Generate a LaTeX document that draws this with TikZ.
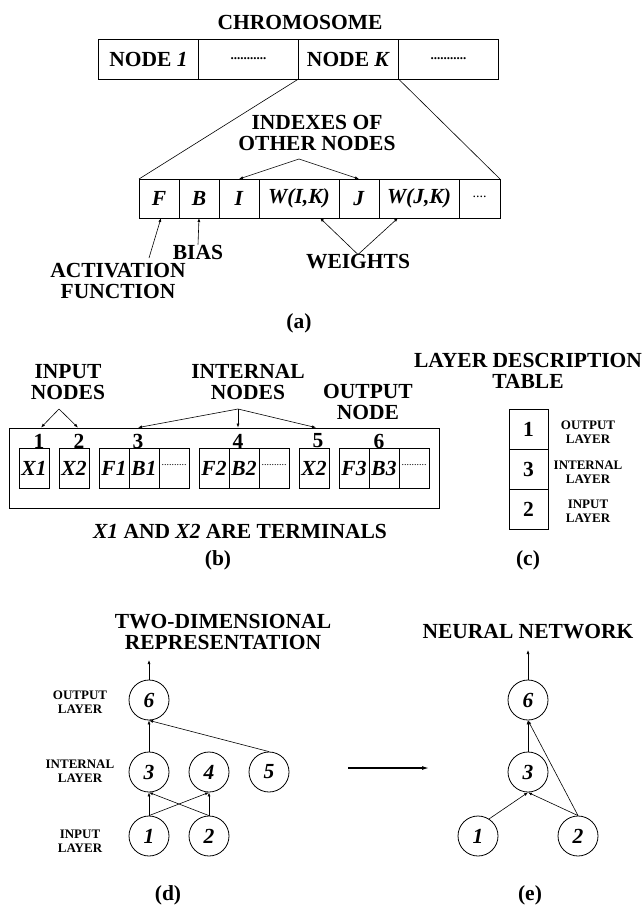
\documentclass[tikz,border=0pt]{standalone}
\usepackage{fontspec}
\setmainfont{Liberation Serif}
\usetikzlibrary{
  arrows.meta,
  positioning
}
\tikzset{
bigtext/.style={
  font=\fontsize{21.5}{21}\selectfont\bfseries,
  align=center,
  inner sep=0pt
},
smalltext/.style={
  font=\fontsize{13}{14}\selectfont\bfseries,
  align=center,
  inner sep=0pt
},
chromcell/.style={
  draw,
  line width=0.8pt,
  minimum width=100pt,
  minimum height=40pt,
  inner sep=0pt,
  outer sep=0pt,
  bigtext
},
genecell/.style={
  draw,
  line width=0.8pt,
  minimum width=40pt,
  minimum height=39pt,
  inner sep=0pt,
  outer sep=0pt,
  bigtext
},
slotcell/.style={
  draw,
  line width=0.8pt,
  minimum width=30pt,
  minimum height=40pt,
  inner sep=0pt,
  outer sep=0pt,
  bigtext
},
tablecell/.style={
  draw,
  line width=0.8pt,
  minimum width=39pt,
  minimum height=40pt,
  inner sep=0pt,
  outer sep=0pt,
  bigtext
},
neuron/.style={
  draw,
  circle,
  line width=0.8pt,
  minimum size=40pt,
  inner sep=0pt,
  bigtext
},
arrow/.style={
  -{Latex[length=4pt,width=3pt]},
  line width=0.6pt
},
thinline/.style={
  line width=0.6pt
},
bigarrow/.style={
  -{Latex[length=7pt,width=4pt]},
  line width=1.2pt
}
}
\newcommand{\celldots}{\raisebox{0.3em}{\fontsize{10}{10}\selectfont\mdseries ..........}}

\begin{document}
\begin{tikzpicture}[x=1pt,y=-1pt]
\useasboundingbox (0,0) rectangle (643,912);

% (a) chromosome
\node[bigtext] (chromtitle) at (300,22) {CHROMOSOME};
\node[chromcell] (node1) at (148.5,59) {NODE \textit{1}};
\node[chromcell, right=0pt of node1] (gap1) {\fontsize{13}{13}\selectfont ...........};
\node[chromcell, right=0pt of gap1] (nodek) {NODE \textit{K}};
\node[chromcell, right=0pt of nodek] (gap2) {\fontsize{13}{13}\selectfont ...........};

\node[genecell] (gf) at (159,198.5) {\textit{F}};
\node[genecell, right=0pt of gf] (gb) {\textit{B}};
\node[genecell, right=0pt of gb] (gi) {\textit{I}};
\node[genecell, right=0pt of gi, minimum width=80pt] (gwik) {\textit{W(I,K)}};
\node[genecell, right=0pt of gwik] (gj) {\textit{J}};
\node[genecell, right=0pt of gj, minimum width=80pt] (gwjk) {\textit{W(J,K)}};
\node[genecell, right=0pt of gwjk, minimum width=41pt] (gmore) {\raisebox{0.2em}{\fontsize{14}{14}\selectfont\mdseries ....}};

\draw[thinline] (nodek.south west) -- (gf.north west);
\draw[thinline] (nodek.south east) -- (gmore.north east);

\node[bigtext] (indexes) at (317,133) {INDEXES OF\\OTHER NODES};
\coordinate (indexapex) at (299,159);
\draw[arrow] (indexapex) -- (gi.north);
\draw[arrow] (indexapex) -- (gj.north);

\node[bigtext] (bias) at (198,252) {BIAS};
\draw[arrow] (bias.north) -- (gb.south);

\node[bigtext] (actfun) at (118,281) {ACTIVATION\\FUNCTION};
\coordinate (actapex) at (149,258);
\draw[arrow] (actapex) -- ([xshift=2pt]gf.south);

\node[bigtext] (weights) at (358,262) {WEIGHTS};
\draw[arrow] (weights.north) -- ([xshift=-19pt]gwik.south east);
\draw[arrow] (weights.north) -- ([xshift=19pt]gwjk.south west);

\node[bigtext] (capa) at (299,323) {(a)};

% (b) encoded network
\node[draw, line width=0.8pt, minimum width=430pt, minimum height=80pt, inner sep=0pt] (strip) at (224,468) {};

\node[slotcell] (sx1) at (34,468) {\textit{X1}};
\node[slotcell] (sx2) at (74,468) {\textit{X2}};
\node[slotcell] (sf1) at (114,468) {\textit{F1}};
\node[slotcell, right=0pt of sf1] (sb1) {\textit{B1}};
\node[slotcell, right=0pt of sb1] (sd1) {\celldots};
\node[slotcell] (sf2) at (214,468) {\textit{F2}};
\node[slotcell, right=0pt of sf2] (sb2) {\textit{B2}};
\node[slotcell, right=0pt of sb2] (sd2) {\celldots};
\node[slotcell] (sx3) at (314,468) {\textit{X2}};
\node[slotcell] (sf3) at (354,468) {\textit{F3}};
\node[slotcell, right=0pt of sf3] (sb3) {\textit{B3}};
\node[slotcell, right=0pt of sb3] (sd3) {\celldots};

\node[bigtext] (num1) at (39,441) {1};
\node[bigtext] (num2) at (79,441) {2};
\node[bigtext] (num3) at (138,441) {3};
\node[bigtext] (num4) at (238,441) {4};
\node[bigtext] (num5) at (318,441) {5};
\node[bigtext] (num6) at (379,441) {6};

\node[bigtext] (inputnodes) at (68,382) {INPUT\\NODES};
\coordinate (inputapex) at (59,409);
\draw[arrow] (inputapex) -- ([xshift=2pt]num1 |- strip.north);
\draw[arrow] (inputapex) -- ([xshift=-1pt]num2 |- strip.north);

\node[bigtext] (internalnodes) at (248,382) {INTERNAL\\NODES};
\coordinate (internalapex) at (238,409);
\draw[arrow] (internalapex) -- (num3 |- strip.north);
\draw[arrow] (internalapex) -- (num4 |- strip.north);
\draw[arrow] (internalapex) -- ([xshift=-2pt]num5 |- strip.north);

\node[bigtext] (outputnode) at (368,402) {OUTPUT\\NODE};

\node[bigtext] (terminals) at (240,531) {\textit{X1} AND \textit{X2} ARE TERMINALS};
\node[bigtext] (capb) at (218,560) {(b)};

% (c) layer table
\node[bigtext] (tabletitle) at (528,371) {LAYER DESCRIPTION\\TABLE};
\node[tablecell] (row1) at (528.5,429) {1};
\node[tablecell, below=0pt of row1] (row2) {3};
\node[tablecell, below=0pt of row2] (row3) {2};
\node[smalltext] (rowlab1) at (588,432) {OUTPUT\\LAYER};
\node[smalltext] (rowlab2) at (588,472) {INTERNAL\\LAYER};
\node[smalltext] (rowlab3) at (588,511) {INPUT\\LAYER};
\node[bigtext] (capc) at (528,560) {(c)};

% (d) two-dimensional representation
\node[bigtext] (twodtitle) at (223,632) {TWO-DIMENSIONAL\\REPRESENTATION};
\node[smalltext] (layout) at (80,702) {OUTPUT\\LAYER};
\node[smalltext] (layint) at (80,771) {INTERNAL\\LAYER};
\node[smalltext] (layin) at (80,841) {INPUT\\LAYER};

\node[neuron] (d6) at (149,700) {\textit{6}};
\node[neuron] (d3) at (149,772) {\textit{3}};
\node[neuron] (d4) at (209,772) {\textit{4}};
\node[neuron] (d5) at (269,772) {\textit{5}};
\node[neuron] (d1) at (149,836) {\textit{1}};
\node[neuron] (d2) at (209,836) {\textit{2}};

\coordinate (d6out) at (149,660);
\draw[arrow] (d6.north) -- (d6out);
\draw[arrow] (d3.north) -- (d6.south);
\draw[arrow] (d5.north) -- (d6.south);
\draw[arrow] (d1.north) -- (d3.south);
\draw[arrow] (d2.north) -- (d3.south);
\draw[arrow] (d1.north) -- (d4.south);
\draw[arrow] (d2.north) -- (d4.south);

\coordinate (mapfrom) at (348,768);
\coordinate (mapto) at (429,768);
\draw[bigarrow] (mapfrom) -- (mapto);

\node[bigtext] (capd) at (168,895) {(d)};

% (e) neural network
\node[bigtext] (nettitle) at (528,632) {NEURAL NETWORK};
\node[neuron] (e6) at (528,700) {\textit{6}};
\node[neuron] (e3) at (528,772) {\textit{3}};
\node[neuron] (e1) at (478,836) {\textit{1}};
\node[neuron] (e2) at (578,836) {\textit{2}};

\coordinate (e6out) at (528,650);
\draw[arrow] (e6.north) -- (e6out);
\draw[arrow] (e3.north) -- (e6.south);
\draw[arrow] (e1.57) -- (e3.south);
\draw[arrow] (e2.north) -- (e3.south);
\draw[arrow] (e2.north) -- (e6.south);

\node[bigtext] (cape) at (530,895) {(e)};
\end{tikzpicture}
\end{document}
